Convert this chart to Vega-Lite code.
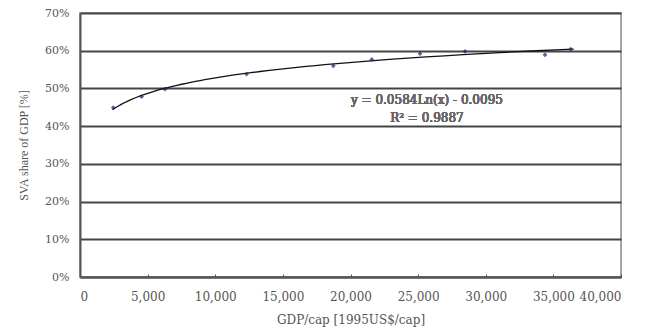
{
  "$schema": "https://vega.github.io/schema/vega-lite/v6.json",
  "autosize": "none",
  "width": 541,
  "height": 264,
  "padding": {"left": 80, "top": 13, "right": 37, "bottom": 56},
  "background": "white",
  "config": {
    "font": "DejaVu Serif",
    "view": {"stroke": "#888888", "strokeWidth": 1.5},
    "axis": {
      "labelFont": "DejaVu Serif",
      "titleFont": "DejaVu Serif",
      "labelFontSize": 11,
      "titleFontSize": 12,
      "titleFontWeight": "normal",
      "labelColor": "#555555",
      "titleColor": "#555555"
    }
  },
  "data": {
    "values": [
      {"gdp": 2460, "share": 0.449},
      {"gdp": 4560, "share": 0.478},
      {"gdp": 6280, "share": 0.498},
      {"gdp": 12320, "share": 0.538},
      {"gdp": 18730, "share": 0.560},
      {"gdp": 21570, "share": 0.577},
      {"gdp": 25140, "share": 0.592},
      {"gdp": 28470, "share": 0.598},
      {"gdp": 34380, "share": 0.589},
      {"gdp": 36280, "share": 0.604}
    ]
  },
  "encoding": {
    "x": {
      "field": "gdp", "type": "quantitative",
      "scale": {"domain": [0, 40000], "nice": false},
      "axis": {
        "title": "GDP/cap [1995US$/cap]",
        "values": [0, 5000, 10000, 15000, 20000, 25000, 30000, 35000, 40000],
        "labelExpr": "format(datum.value, ',')",
        "labelFontSize": 12,
        "grid": false,
        "domainColor": "#555555",
        "domainWidth": 2,
        "tickColor": "#555555",
        "tickSize": -3,
        "labelPadding": 17,
        "titlePadding": 12
      }
    },
    "y": {
      "field": "share", "type": "quantitative",
      "scale": {"domain": [0, 0.7], "nice": false},
      "axis": {
        "title": "SVA share of GDP [%]",
        "titleFont": "Liberation Serif",
        "titleFontSize": 12,
        "values": [0, 0.1, 0.2, 0.3, 0.4, 0.5, 0.6, 0.7],
        "labelExpr": "format(datum.value, '.0%')",
        "grid": true,
        "gridColor": "#444444",
        "gridWidth": 2,
        "domainColor": "#555555",
        "domainWidth": 2,
        "ticks": false,
        "labelPadding": 11,
        "titlePadding": 14
      }
    }
  },
  "layer": [
    {
      "transform": [
        {"regression": "share", "on": "gdp", "method": "log", "extent": [2400, 36500]}
      ],
      "mark": {"type": "line", "color": "#111111", "strokeWidth": 1.3}
    },
    {
      "mark": {"type": "point", "shape": "diamond", "filled": true, "size": 22, "color": "#1a1a66"}
    },
    {
      "mark": {"type": "text", "fontSize": 12, "fontWeight": "normal", "color": "#666666", "font": "DejaVu Serif", "align": "center", "baseline": "middle"},
      "encoding": {
        "x": {"datum": 25650, "type": "quantitative"},
        "y": {"datum": 0.47, "type": "quantitative"},
        "text": {"value": "y = 0.0584Ln(x) - 0.0095"}
      }
    },
    {
      "mark": {"type": "text", "fontSize": 12, "fontWeight": "normal", "color": "#666666", "font": "DejaVu Serif", "align": "center", "baseline": "middle"},
      "encoding": {
        "x": {"datum": 25650, "type": "quantitative"},
        "y": {"datum": 0.422, "type": "quantitative"},
        "text": {"value": "R² = 0.9887"}
      }
    }
  ]
}
